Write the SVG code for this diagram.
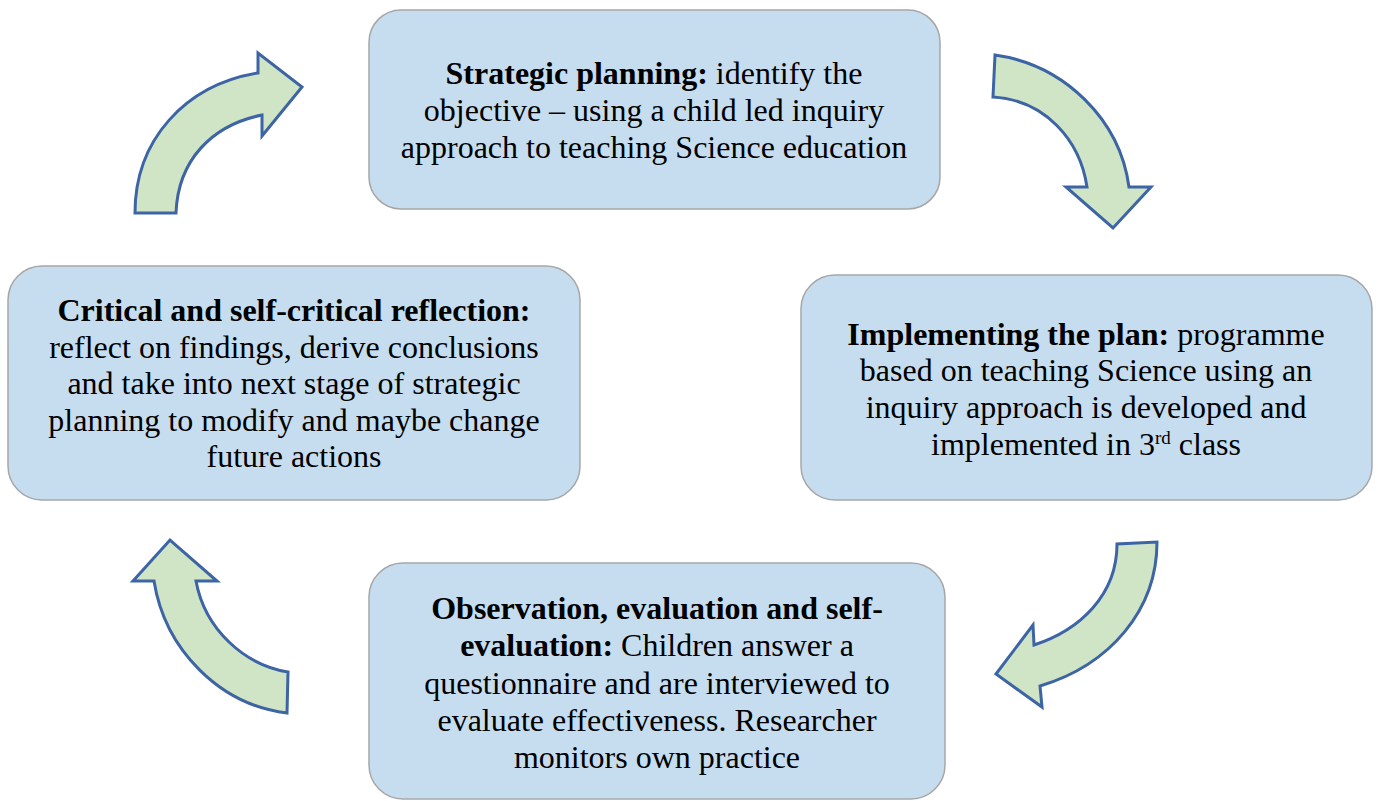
<svg xmlns="http://www.w3.org/2000/svg" width="1378" height="801" viewBox="0 0 1378 801">
<style>
.box{fill:#c6ddf0;stroke:#a6a6a6;stroke-width:1.5}
.arr{fill:#cfe5c6;stroke:#3d64a4;stroke-width:3;stroke-linejoin:miter}
text{font-family:'Liberation Serif','Times New Roman',serif;font-size:32px;fill:#000;text-anchor:middle}
.b{font-weight:bold}
.sup{font-size:19px}
</style>
<rect width="1378" height="801" fill="#fff"/>
<g id="connectors">
<path class="arr" d="M135,213 C135,140 185,85 258,73 L258,53 L302,87 L262,136 L262,115 C212,125 178,160 176,213 Z"/>
<path class="arr" d="M995,55 C1065,65 1120,120 1129,187 L1151,187 L1113,228 L1066,187 L1087,187 C1080,140 1045,100 993,97 Z"/>
<path class="arr" d="M1157,542 C1157,610 1110,665 1040,686 L1042,707 L996,674 L1033,625 L1034,645 C1080,630 1117,595 1117,544 Z"/>
<path class="arr" d="M154,581 C165,650 220,705 287,713 L288,672 C245,665 205,630 196,581 L217,581 L170,540 L133,581 Z"/>
</g>
<g id="node-strategic">
<rect class="box" x="369" y="10" width="571" height="199" rx="32"/>
<text x="654" y="84"><tspan class="b">Strategic planning:</tspan> identify the</text>
<text x="654" y="121">objective – using a child led inquiry</text>
<text x="654" y="158">approach to teaching Science education</text>
</g>
<g id="node-implementing">
<rect class="box" x="801" y="275" width="571" height="225" rx="34"/>
<text x="1086" y="345"><tspan class="b">Implementing the plan:</tspan> programme</text>
<text x="1086" y="381">based on teaching Science using an</text>
<text x="1086" y="418">inquiry approach is developed and</text>
<text x="1086" y="455">implemented in 3<tspan class="sup" dy="-11">rd</tspan><tspan dy="11"> class</tspan></text>
</g>
<g id="node-observation">
<rect class="box" x="369" y="563" width="576" height="236" rx="34"/>
<text x="657" y="619"><tspan class="b">Observation, evaluation and self-</tspan></text>
<text x="657" y="656"><tspan class="b">evaluation:</tspan> Children answer a</text>
<text x="657" y="694">questionnaire and are interviewed to</text>
<text x="657" y="731">evaluate effectiveness. Researcher</text>
<text x="657" y="768">monitors own practice</text>
</g>
<g id="node-reflection">
<rect class="box" x="8" y="266" width="572" height="234" rx="34"/>
<text x="294" y="321"><tspan class="b">Critical and self-critical reflection:</tspan></text>
<text x="294" y="358">reflect on findings, derive conclusions</text>
<text x="294" y="394">and take into next stage of strategic</text>
<text x="294" y="431">planning to modify and maybe change</text>
<text x="294" y="467">future actions</text>
</g>
</svg>
